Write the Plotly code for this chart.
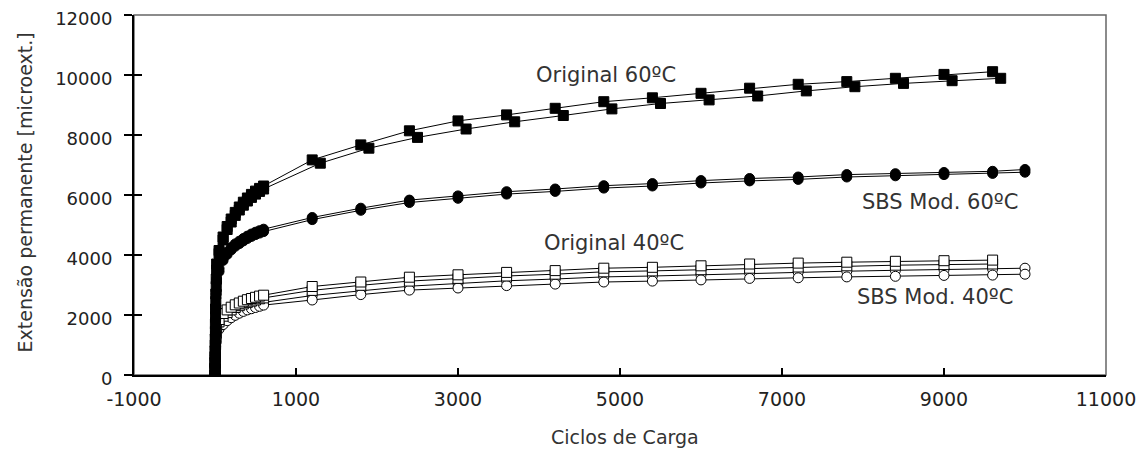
import plotly.graph_objects as go

# ---- data ----
early_x = [0, 1, 2, 3, 5, 7, 10, 15, 20, 50, 100, 150, 200, 250, 300, 350, 400, 450, 500, 550, 600]

orig60_a_x = [1200, 1800, 2400, 3000, 3600, 4200, 4800, 5400, 6000, 6600, 7200, 7800, 8400, 9000, 9600]
orig60_a_early = [0, 400, 800, 1200, 1700, 2200, 2700, 3200, 3700, 4150, 4600, 4950, 5200, 5420, 5600, 5760, 5900, 6020, 6130, 6220, 6300]
orig60_a_y = [7170, 7670, 8140, 8470, 8670, 8890, 9110, 9240, 9390, 9560, 9690, 9780, 9890, 10020, 10110]

orig60_b_x = [1300, 1900, 2500, 3100, 3700, 4300, 4900, 5500, 6100, 6700, 7300, 7900, 8500, 9100, 9700]
orig60_b_early = [0, 200, 600, 1000, 1450, 1950, 2450, 2950, 3500, 4050, 4500, 4850, 5100, 5320, 5500, 5660, 5800, 5920, 6030, 6120, 6200]
orig60_b_y = [7060, 7560, 7920, 8200, 8440, 8650, 8870, 9050, 9170, 9300, 9470, 9610, 9720, 9810, 9890]

sbs60_x = [1200, 1800, 2400, 3000, 3600, 4200, 4800, 5400, 6000, 6600, 7200, 7800, 8400, 9000, 9600, 10000]
sbs60_a_early = [0, 300, 650, 1000, 1400, 1850, 2300, 2800, 3200, 3550, 3900, 4100, 4250, 4370, 4460, 4550, 4630, 4700, 4760, 4810, 4860]
sbs60_a_y = [5250, 5560, 5830, 5970, 6110, 6200, 6310, 6380, 6480, 6550, 6600, 6680, 6710, 6750, 6790, 6850]
sbs60_b_early = [0, 280, 600, 950, 1350, 1800, 2200, 2700, 3100, 3450, 3820, 4020, 4170, 4290, 4380, 4470, 4550, 4620, 4680, 4730, 4780]
sbs60_b_y = [5180, 5490, 5750, 5890, 6030, 6120, 6230, 6300, 6400, 6470, 6520, 6600, 6640, 6680, 6720, 6760]

orig40_x = [1200, 1800, 2400, 3000, 3600, 4200, 4800, 5400, 6000, 6600, 7200, 7800, 8400, 9000, 9600]
orig40_a_early = [0, 250, 450, 650, 850, 1050, 1250, 1450, 1600, 1850, 2050, 2170, 2260, 2340, 2400, 2460, 2510, 2550, 2590, 2630, 2660]
orig40_a_y = [2950, 3100, 3260, 3340, 3420, 3480, 3560, 3590, 3640, 3700, 3730, 3760, 3790, 3810, 3830]
orig40_b_early = [0, 230, 420, 620, 800, 1000, 1200, 1400, 1550, 1770, 1960, 2080, 2170, 2250, 2310, 2370, 2420, 2460, 2500, 2540, 2570]
orig40_b_y = [2820, 2990, 3130, 3220, 3300, 3360, 3440, 3470, 3510, 3560, 3600, 3640, 3660, 3680, 3700]

sbs40_x = [1200, 1800, 2400, 3000, 3600, 4200, 4800, 5400, 6000, 6600, 7200, 7800, 8400, 9000, 9600, 10000]
sbs40_a_early = [0, 220, 400, 580, 760, 950, 1130, 1300, 1450, 1650, 1830, 1950, 2040, 2110, 2170, 2220, 2270, 2310, 2350, 2390, 2420]
sbs40_a_y = [2650, 2810, 2960, 3050, 3140, 3200, 3270, 3300, 3340, 3400, 3430, 3460, 3490, 3510, 3530, 3560]
sbs40_b_early = [0, 200, 380, 550, 720, 900, 1080, 1250, 1380, 1530, 1680, 1810, 1910, 1990, 2060, 2120, 2170, 2210, 2250, 2290, 2330]
sbs40_b_y = [2500, 2680, 2830, 2900, 2980, 3030, 3100, 3130, 3170, 3220, 3240, 3270, 3290, 3320, 3330, 3360]

x_ticks = [-1000, 1000, 3000, 5000, 7000, 9000, 11000]
x_tick_text = ["-1000", "1000", "3000", "5000", "7000", "9000", "11000"]
y_ticks = [0, 2000, 4000, 6000, 8000, 10000, 12000]
y_tick_text = ["0", "2000", "4000", "6000", "8000", "10000", "12000"]

labels = ["Original 60ºC", "SBS Mod. 60ºC", "Original 40ºC", "SBS Mod. 40ºC"]
label_x = [4830, 8950, 4920, 8890]
label_y = [10000, 5760, 4410, 2590]

FONT = "DejaVu Sans"
BODY = 8  # default page margin around the plot div

fig = go.Figure()

def add(xe, ye, xl, yl, symbol, fill, yaxis="y"):
    fig.add_trace(go.Scatter(
        x=xe + xl, y=ye + yl, mode="lines+markers",
        line=dict(color="black", width=1),
        marker=dict(symbol=symbol, size=10, color=fill,
                    line=dict(color="black", width=1)),
        showlegend=False, hoverinfo="x+y", yaxis=yaxis,
    ))

add(early_x, sbs40_a_early, sbs40_x, sbs40_a_y, "circle", "white")
add(early_x, sbs40_b_early, sbs40_x, sbs40_b_y, "circle", "white")
add(early_x, orig40_b_early, orig40_x, orig40_b_y, "square", "white")
add(early_x, orig40_a_early, orig40_x, orig40_a_y, "square", "white")
add(early_x, sbs60_b_early, sbs60_x, sbs60_b_y, "circle", "black")
add(early_x, sbs60_a_early, sbs60_x, sbs60_a_y, "circle", "black")
add(early_x, orig60_b_early, orig60_b_x, orig60_b_y, "square", "black")
add(early_x, orig60_a_early, orig60_a_x, orig60_a_y, "square", "black", yaxis="y2")

for t, lx, ly in zip(labels, label_x, label_y):
    fig.add_annotation(x=lx, y=ly, text=t, showarrow=False,
                       font=dict(family=FONT, size=21, color="#333"))

fig.add_annotation(xref="paper", yref="paper", x=0, y=0.507, xshift=-109,
                   text="Extensão permanente [microext.]", textangle=-90,
                   showarrow=False, xanchor="center", yanchor="middle",
                   font=dict(family=FONT, size=19, color="#333"))
fig.add_annotation(xref="paper", yref="paper", x=0.505, y=0, yshift=-62,
                   text="Ciclos de Carga", showarrow=False,
                   xanchor="center", yanchor="middle",
                   font=dict(family=FONT, size=19, color="#333"))

fig.add_shape(type="rect", xref="paper", yref="paper", x0=0, x1=1, y0=0, y1=1,
              line=dict(color="#666", width=1.5), layer="below")

fig.update_layout(
    template="none",
    width=1145 - BODY, height=450 - BODY,
    margin=dict(l=134 - BODY, r=39, t=15 - BODY, b=75, pad=0),
    paper_bgcolor="white", plot_bgcolor="white",
    font=dict(family=FONT, color="#222"),
    xaxis=dict(range=[-1000, 11000], tickvals=x_ticks, ticktext=x_tick_text,
               ticks="inside", ticklen=7, tickwidth=1.5,
               tickcolor="black", showline=True, linecolor="black", linewidth=2,
               showgrid=False, zeroline=False, automargin=False,
               ticklabeloverflow="allow",
               tickfont=dict(size=19, family=FONT, color="#222"),
               ticklabelstandoff=6),
    yaxis=dict(range=[0, 12000], tickvals=y_ticks, ticktext=y_tick_text,
               ticks="outside", ticklen=8, tickwidth=1.5,
               tickcolor="black", showline=True, linecolor="black", linewidth=2,
               showgrid=False, zeroline=False, automargin=False,
               ticklabeloverflow="allow", ticklabelshift=4,
               tickfont=dict(size=18, family=FONT, color="#222"),
               ticklabelstandoff=8),
    yaxis2=dict(range=[0, 12000], overlaying="y", side="left", tickvals=y_ticks,
                ticks="inside", ticklen=8, tickwidth=1.5, tickcolor="black",
                showticklabels=False, showline=False, showgrid=False,
                zeroline=False, automargin=False),
)

fig.write_html("out.html")
